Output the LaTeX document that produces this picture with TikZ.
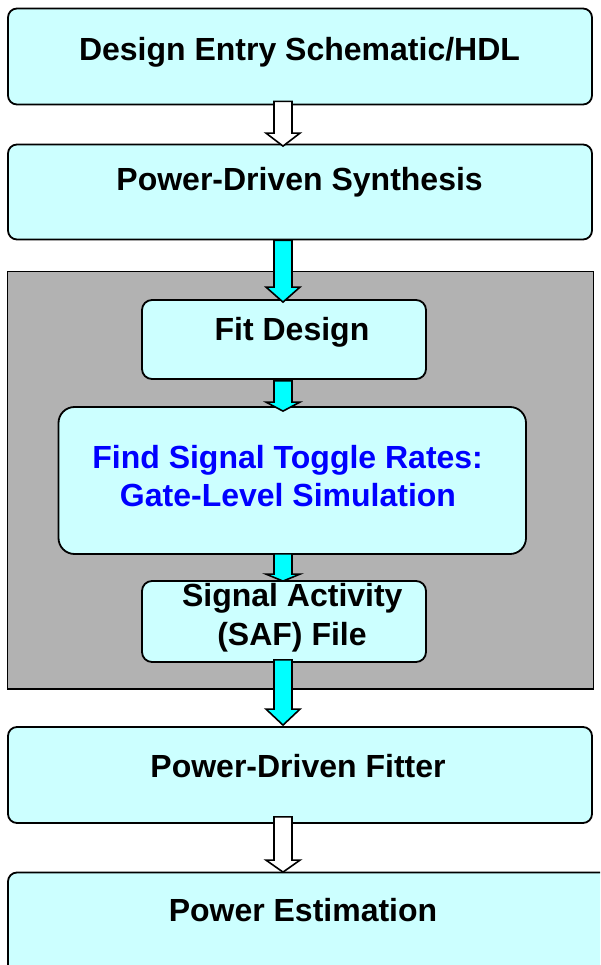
\documentclass[tikz,border=0pt]{standalone}
\usepackage{fontspec}
\setmainfont{Liberation Sans}
\usetikzlibrary{calc}
\definecolor{boxcyan}{HTML}{CCFFFF}
\definecolor{arrcyan}{HTML}{00FFFF}
\definecolor{panelgray}{HTML}{B2B2B2}
\definecolor{txtblue}{HTML}{0000FF}
\newcommand\blockarrow[6]{%
  \path (#2.south -| spine) ++(0,#4) coordinate (s) (#3.north -| spine) ++(0,#5) coordinate (t);
  \draw[#1] ($(s)+(-9,0)$) -- ($(t)+(-9,-#6)$) -- ($(t)+(-17,-#6)$) -- (t) -- ($(t)+(17,-#6)$) -- ($(t)+(9,-#6)$) -- ($(s)+(9,0)$) -- cycle;}
\begin{document}
\begin{tikzpicture}[x=1pt,y=-1pt,
  flowbox/.style={draw=black, fill=boxcyan, line width=1.8pt, rounded corners=9pt, inner sep=0pt},
  panel/.style={draw=black, fill=panelgray, line width=1.8pt, inner sep=0pt},
  lbl/.style={anchor=base, inner sep=0pt, font=\fontsize{32}{38}\selectfont\bfseries},
  whitearrow/.style={draw=black, fill=white, line width=1.6pt, line join=miter},
  cyanarrow/.style={draw=black, fill=arrcyan, line width=1.6pt, line join=miter}]
\useasboundingbox (0,0) rectangle (600,965);
\clip (0,0) rectangle (600,965);
\fill[white] (0,0) rectangle (600,965);
\coordinate (spine) at (283,0);
% boxes
\node[flowbox, minimum width=584pt, minimum height=96pt] (entry) at (300,56.5) {};
\node[flowbox, minimum width=584pt, minimum height=95pt] (synth) at (300,192) {};
\node[panel, minimum width=586pt, minimum height=417.5pt] (panel) at (300.5,480.25) {};
\node[flowbox, minimum width=284pt, minimum height=79pt, rounded corners=10pt] (fit) at (284,339.5) {};
\node[flowbox, minimum width=467.5pt, minimum height=147pt, rounded corners=16pt] (find) at (292.25,480.5) {};
\node[flowbox, minimum width=284pt, minimum height=81pt, rounded corners=10pt] (saf) at (284,621.5) {};
\node[flowbox, minimum width=584pt, minimum height=96pt] (fitter) at (300,775) {};
\node[flowbox, minimum width=604pt, minimum height=103pt] (estim) at (310,924) {};
% arrows
\blockarrow{whitearrow}{entry}{synth}{-4}{2.5}{13}
\blockarrow{cyanarrow}{synth}{fit}{0}{3}{15}
\blockarrow{cyanarrow}{fit}{find}{1}{5}{9}
\blockarrow{cyanarrow}{find}{saf}{-1}{1}{7}
\blockarrow{cyanarrow}{saf}{fitter}{-3}{-1}{16}
\blockarrow{whitearrow}{fitter}{estim}{-7}{0.5}{12}
% texts
\node[lbl] (t1) at (299.5,61) {Design Entry Schematic/HDL};
\node[lbl] (t2) at (299.6,190.7) {Power-Driven Synthesis};
\node[lbl] (t3) at (292,340.7) {Fit Design};
\node[lbl, text=txtblue] (t4) at (287.6,468) {Find Signal Toggle Rates:};
\node[lbl, text=txtblue] (t5) at (288,506) {Gate-Level Simulation};
\node[lbl] (t6) at (292.3,606) {Signal Activity};
\node[lbl] (t7) at (292,645) {(SAF) File};
\node[lbl] (t8) at (298,777) {Power-Driven Fitter};
\node[lbl] (t9) at (303,921) {Power Estimation};
\end{tikzpicture}
\end{document}
